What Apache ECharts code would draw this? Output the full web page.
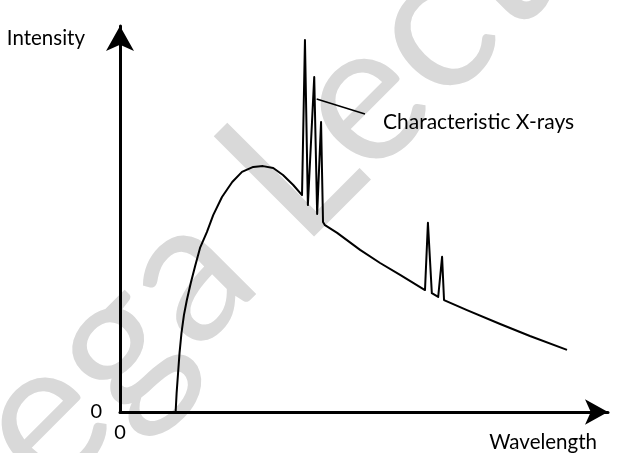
<!DOCTYPE html>
<html>
<head>
<meta charset="utf-8">
<script src="https://cdn.jsdelivr.net/npm/echarts@6/dist/echarts.min.js"></script>
<style>
  html, body { margin: 0; padding: 0; background: #ffffff; }
  #chart { width: 620px; height: 453px; }
</style>
</head>
<body>
<div id="chart"></div>
<script>
// Wavelength (arbitrary units) and intensity (arbitrary units) of the X-ray spectrum
const wavelength = [1.14, 1.16, 1.19, 1.22, 1.26, 1.31, 1.37, 1.45, 1.54, 1.64, 1.78, 1.91, 2.09, 2.30, 2.50, 2.73, 2.93, 3.14, 3.34, 3.55,
  3.73, 3.79, 3.85, 3.89, 3.98, 4.04, 4.08, 4.12, 4.16, 4.20,
  4.45, 4.92, 5.33, 5.74, 6.25, 6.31, 6.39, 6.52, 6.60, 6.64, 7.11, 7.79, 8.40, 9.16];
const intensity = [0, 0.49, 1.01, 1.53, 2.05, 2.51, 2.90, 3.34, 3.78, 4.25, 4.66, 5.10, 5.57, 5.96, 6.22, 6.35, 6.37, 6.32, 6.14, 5.88,
  5.62, 9.64, 5.36, 5.34, 8.68, 5.13, 5.10, 7.51, 4.92, 4.84,
  4.64, 4.20, 3.86, 3.55, 3.16, 4.90, 3.08, 2.98, 4.02, 2.90, 2.64, 2.28, 1.97, 1.61];
// Leader line for the annotation
const leaderX = [4.03, 5.02];
const leaderY = [8.11, 7.72];
const annotation = 'Characteristic X-rays';
const xName = 'Wavelength';
const yName = 'Intensity';
const tickLabels = ['0'];

const spectrum = wavelength.map((x, i) => [x, intensity[i]]);
const leader = leaderX.map((x, i) => [x, leaderY[i]]);

const chart = echarts.init(document.getElementById('chart'), null, { renderer: 'canvas' });
const font = 'Lato, "Open Sans", sans-serif';

chart.setOption({
  backgroundColor: '#ffffff',
  animation: false,
  textStyle: { fontFamily: font, color: '#000' },
  grid: { left: 120, right: 12, top: 26, bottom: 41, containLabel: false },
  xAxis: {
    type: 'value', min: 0, max: 10, interval: 10,
    name: xName, nameLocation: 'end', nameGap: -11,
    nameTextStyle: { fontFamily: font, fontSize: 20.5, color: '#000', align: 'right', verticalAlign: 'top', padding: [19.5, 0, 0, 0] },
    axisLine: { show: true, symbol: ['none', 'arrow'], symbolSize: [19, 23], lineStyle: { color: '#000', width: 3 } },
    axisTick: { show: false },
    splitLine: { show: false },
    axisLabel: { show: true, showMaxLabel: false, margin: 11, fontSize: 20, color: '#000', fontFamily: font,
      formatter: v => (v === 0 ? tickLabels[0] : '') }
  },
  yAxis: {
    type: 'value', min: 0, max: 10, interval: 10,
    name: yName, nameLocation: 'end', nameGap: -12.5,
    nameTextStyle: { fontFamily: font, fontSize: 20.5, color: '#000', align: 'right', verticalAlign: 'middle', padding: [0, 35, 0, 0] },
    axisLine: { show: true, symbol: ['none', 'arrow'], symbolSize: [21, 25], lineStyle: { color: '#000', width: 3 } },
    axisTick: { show: false },
    splitLine: { show: false },
    axisLabel: { show: true, showMaxLabel: false, margin: 18, fontSize: 20, color: '#000', fontFamily: font,
      formatter: v => (v === 0 ? tickLabels[0] : '') }
  },
  graphic: [
    {
      type: 'text', z: -10, silent: true,
      x: -124, y: 584, rotation: Math.PI / 4,
      style: { text: 'Mega Lecture', fontFamily: font, fontSize: 198, fill: '#d9d9d9', textAlign: 'left', textVerticalAlign: 'middle' }
    },
    {
      type: 'text', z: 10,
      x: 383, y: 122,
      style: { text: annotation, fontFamily: font, fontSize: 21, fill: '#000', textAlign: 'left', textVerticalAlign: 'middle' }
    }
  ],
  series: [
    {
      type: 'line', data: spectrum, showSymbol: false, symbol: 'none', smooth: false,
      lineStyle: { color: '#000', width: 2, join: 'round' }, z: 5
    },
    {
      type: 'line', data: leader, showSymbol: false, symbol: 'none',
      lineStyle: { color: '#000', width: 1.5 }, z: 5
    }
  ]
});
</script>
</body>
</html>
